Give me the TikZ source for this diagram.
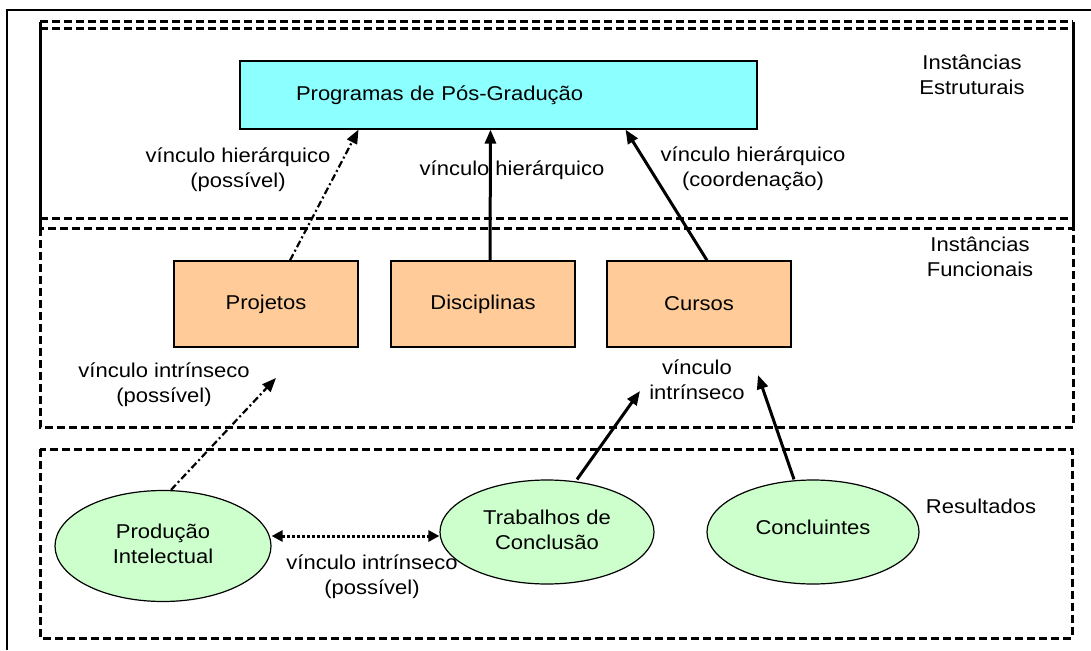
\documentclass[tikz,border=0pt]{standalone}
\usepackage{fontspec}
\setmainfont[FakeStretch=1.1]{Liberation Sans}
\usetikzlibrary{arrows.meta,shapes.geometric}
\definecolor{cyanfill}{RGB}{140,255,255}
\definecolor{orangefill}{RGB}{255,204,153}
\definecolor{greenfill}{RGB}{204,255,204}
\begin{document}
\begin{tikzpicture}[x=1pt,y=-1pt,
  font=\fontsize{20}{25}\selectfont,
  frame/.style={line width=3pt, dash pattern=on 8pt off 4pt},
  progbox/.style={draw, line width=1.2pt, fill=cyanfill, minimum height=68pt,
    text width=405pt, inner xsep=56pt, align=left},
  funcbox/.style={draw, line width=1.2pt, fill=orangefill, minimum width=184pt, minimum height=86pt},
  resnode/.style={draw, ellipse, line width=1.2pt, fill=greenfill, inner sep=0pt, align=center},
  lbl/.style={align=center, inner sep=0pt},
  solidarrow/.style={line width=3pt, -{Triangle[length=14pt,width=11pt]}},
  dasharrow/.style={line width=2.2pt, dash pattern=on 7pt off 3pt on 2pt off 3pt, -{Triangle[length=14pt,width=11pt]}},
  dotarrow/.style={line width=3pt, dash pattern=on 3pt off 2pt, {Triangle[length=11pt,width=11pt]}-{Triangle[length=11pt,width=11pt]}}
]
\useasboundingbox (0,0) rectangle (1091,650);
\fill[white] (0,0) rectangle (1091,650);
% outer frame
\draw[line width=2pt] (7,650) -- (7,10) -- (1091,10);
% structural layer
\draw[frame] (40,22) -- (1073,22);
\draw[frame] (40,29) -- (1073,29);
\draw[frame] (40,218) -- (1073,218);
\draw[line width=3pt] (40,22) -- (40,228);
\draw[line width=3pt] (1073,22) -- (1073,228);
% functional layer
\draw[frame] (40,228) rectangle (1073,427);
% results layer
\draw[frame] (40,449) rectangle (1072,638);

% nodes
\node[progbox] (prog) at (498.5,95) {Programas de Pós-Gradução};
\node[lbl] (estr) at (972,75) {Instâncias\\Estruturais};
\node[lbl] (func) at (980,257) {Instâncias\\Funcionais};
\node[lbl] (resl) at (981,506) {Resultados};

\node[funcbox] (proj) at (266,304) {Projetos};
\node[funcbox] (disc) at (483,304) {Disciplinas};
\node[funcbox] (curs) at (699,304) {Cursos};

\node[resnode, minimum width=216pt, minimum height=111pt] (prod) at (163,546) {\raisebox{-9pt}{\begin{tabular}{@{}c@{}}Produção\\Intelectual\end{tabular}}};
\node[resnode, minimum width=214pt, minimum height=104pt] (trab) at (547,532) {\raisebox{-5pt}{\begin{tabular}{@{}c@{}}Trabalhos de\\Conclusão\end{tabular}}};
\node[resnode, minimum width=212pt, minimum height=104pt] (conc) at (813,532) {\raisebox{9pt}{Concluintes}};

% labels
\node[lbl] (l1) at (238,170) {vínculo hierárquico\\(possível)};
\node[lbl] (l2) at (512,170) {vínculo hierárquico};
\node[lbl] (l3) at (753,169) {vínculo hierárquico\\(coordenação)};
\node[lbl] (l4) at (164,385) {vínculo intrínseco\\(possível)};
\node[lbl] (l5) at (697,380) {vínculo\\intrínseco};
\node[lbl] (l6) at (372,577) {vínculo intrínseco\\(possível)};

% free ends
\coordinate (t1) at (276,378);
\coordinate (t2) at (640,391);
\coordinate (t3) at (758,375);

% connectors
\draw[dasharrow] ([xshift=24pt]proj.north) -- ([xshift=-140pt]prog.south);
\draw[solidarrow] ([xshift=7pt]disc.north) -- ([xshift=-8pt]prog.south);
\draw[solidarrow] ([xshift=8pt]curs.north) -- ([xshift=127pt]prog.south);
\draw[dasharrow] ([xshift=8pt]prod.north) -- (t1);
\draw[solidarrow] ([xshift=30pt]trab.north) -- (t2);
\draw[solidarrow] ([xshift=-19pt]conc.north) -- (t3);
\draw[dotarrow] ([yshift=10pt]prod.east) -- ([yshift=-4pt]trab.west);
\end{tikzpicture}
\end{document}
